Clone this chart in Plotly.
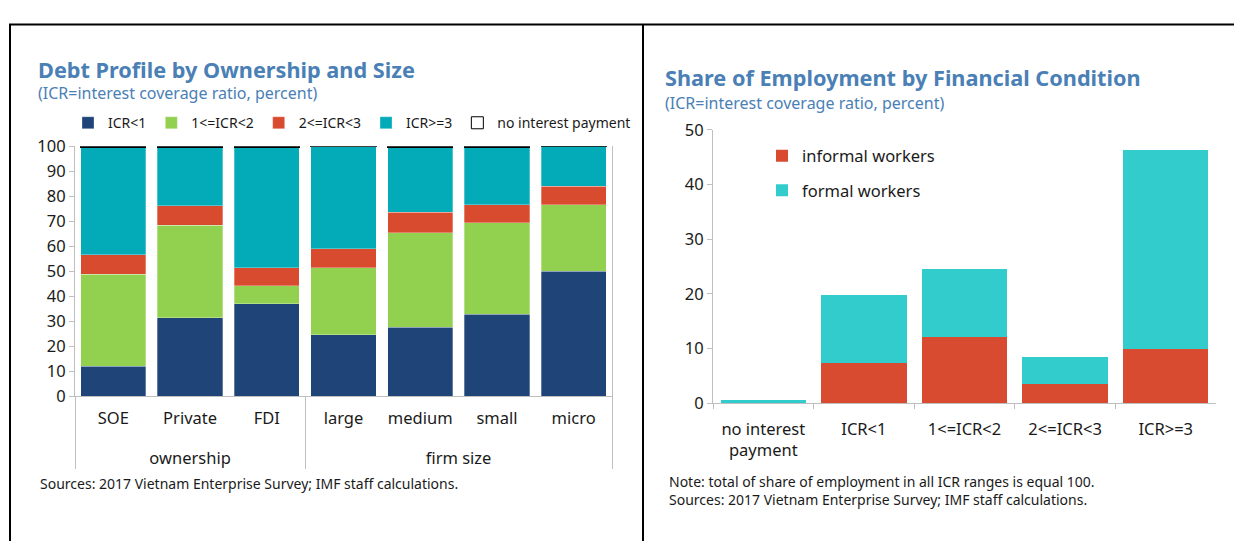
import plotly.graph_objects as go

W, H = 1234, 552

# ---- left chart: debt profile (percent of firms) ----
GROUPS = ["<br>ownership"] * 3 + ["<br>firm size"] * 4
FIRMS = ["SOE", "Private", "FDI", "large", "medium", "small", "micro"]
ICR_LT1 = [12.0, 31.4, 36.9, 24.6, 27.6, 32.7, 49.9]
ICR_1_2 = [36.7, 36.9, 7.3, 26.8, 37.8, 36.7, 26.6]
ICR_2_3 = [7.8, 7.9, 7.2, 7.6, 8.2, 7.1, 7.5]
ICR_GE3 = [43.0, 23.4, 47.9, 40.7, 26.0, 23.1, 15.9]
NO_INT = [0.5, 0.4, 0.7, 0.3, 0.4, 0.4, 0.1]

# ---- right chart: share of employment ----
ICR_CATS = ["no interest<br>payment", "ICR<1", "1<=ICR<2", "2<=ICR<3", "ICR>=3"]
INFORMAL = [0.0, 7.3, 12.0, 3.5, 9.8]
FORMAL = [0.5, 12.5, 12.6, 4.9, 36.6]

FONT = "Noto Sans"
BLUE_T = "#4a80b5"
AX = "#bfbfbf"


def px(x):
    return x / W


def py(y):
    return 1 - y / H


fig = go.Figure()

left_series = [
    ("ICR<1", ICR_LT1, "#1f4477"),
    ("1<=ICR<2", ICR_1_2, "#92d050"),
    ("2<=ICR<3", ICR_2_3, "#d94b2f"),
    ("ICR>=3", ICR_GE3, "#03aab7"),
]
for name, vals, col in left_series:
    fig.add_trace(go.Bar(
        x=[GROUPS, FIRMS], y=vals, name=name,
        marker=dict(color=col, line=dict(width=0.6, color="rgba(255,255,255,0.5)")),
        xaxis="x", yaxis="y", legend="legend",
    ))
fig.add_trace(go.Bar(
    x=[GROUPS, FIRMS], y=NO_INT, name="no interest payment",
    marker=dict(color="white", line=dict(width=1, color="black")),
    xaxis="x", yaxis="y", legend="legend",
))

fig.add_trace(go.Bar(
    x=ICR_CATS, y=INFORMAL, name="informal workers",
    marker=dict(color="#d84b30", line=dict(width=0)),
    xaxis="x2", yaxis="y2", legend="legend2", legendgroup="a",
))
fig.add_trace(go.Bar(
    x=ICR_CATS, y=FORMAL, name="formal workers",
    marker=dict(color="#33cccc", line=dict(width=0)),
    xaxis="x2", yaxis="y2", legend="legend2", legendgroup="b",
))

tick_font = dict(family=FONT, size=16.5, color="#1a1a1a")
note_font = dict(family=FONT, size=14, color="#1a1a1a")

annotations = [
    dict(text="<b>Debt Profile by Ownership and Size</b>", x=px(36), y=py(60),
         font=dict(family=FONT, size=21.7, color=BLUE_T)),
    dict(text="(ICR=interest coverage ratio, percent)", x=px(36), y=py(84),
         font=dict(family=FONT, size=16, color=BLUE_T)),
    dict(text="Sources: 2017 Vietnam Enterprise Survey; IMF staff calculations.",
         x=px(38), y=py(492), font=note_font),
    dict(text="<b>Share of Employment by Financial Condition</b>", x=px(663), y=py(68),
         font=dict(family=FONT, size=21.7, color=BLUE_T)),
    dict(text="(ICR=interest coverage ratio, percent)", x=px(663), y=py(95),
         font=dict(family=FONT, size=16, color=BLUE_T)),
    dict(text="Note: total of share of employment in all ICR ranges is equal 100.",
         x=px(667), y=py(490), font=note_font),
    dict(text="Sources: 2017 Vietnam Enterprise Survey; IMF staff calculations.",
         x=px(667), y=py(509), font=note_font),
]
for a in annotations:
    a.update(xref="paper", yref="paper", xanchor="left", yanchor="middle", showarrow=False)

frame = dict(type="line", xref="paper", yref="paper", line=dict(color="black", width=2))
shapes = [
    dict(frame, x0=px(9), x1=1, y0=py(13), y1=py(13)),
    dict(frame, x0=px(10), x1=px(10), y0=py(13), y1=0),
    dict(frame, x0=px(643), x1=px(643), y0=py(13), y1=0),
]

fig.update_layout(
    width=W, height=H,
    margin=dict(l=0, r=0, t=0, b=0),
    paper_bgcolor="white", plot_bgcolor="white",
    barmode="stack", bargap=0.15,
    font=dict(family=FONT, color="#1a1a1a"),
    annotations=annotations,
    shapes=shapes,
    xaxis=dict(
        domain=[px(75), px(612)], anchor="y", type="multicategory",
        showline=True, linecolor=AX, linewidth=1,
        showdividers=True, dividercolor=AX, dividerwidth=1,
        ticks="", tickfont=tick_font, showgrid=False, ticklabelstandoff=7,
    ),
    yaxis=dict(
        domain=[py(401), py(140)], anchor="x", range=[0, 100], dtick=10,
        showline=True, mirror=True, linecolor=AX, linewidth=1,
        ticks="outside", ticklen=5, tickcolor=AX, tickfont=tick_font,
        showgrid=False, zeroline=False,
    ),
    xaxis2=dict(
        domain=[px(713), px(1216)], anchor="y2",
        showline=True, linecolor=AX, linewidth=1,
        ticks="outside", tickson="boundaries", ticklen=5, tickcolor=AX,
        tickfont=tick_font, showgrid=False, ticklabelstandoff=11,
    ),
    yaxis2=dict(
        domain=[py(408), py(123)], anchor="x2", range=[0, 50], dtick=10,
        showline=True, linecolor=AX, linewidth=1,
        ticks="outside", ticklen=5, tickcolor=AX, tickfont=tick_font,
        showgrid=False, zeroline=False,
    ),
    legend=dict(
        orientation="h", x=px(352), y=py(116), xanchor="center", yanchor="middle",
        traceorder="normal", font=dict(family=FONT, size=14, color="#1a1a1a"),
        itemwidth=30, bgcolor="rgba(0,0,0,0)",
    ),
    legend2=dict(
        orientation="v", x=px(762), y=py(132), xanchor="left", yanchor="top",
        traceorder="grouped", tracegroupgap=10,
        font=dict(family=FONT, size=16.5, color="#1a1a1a"),
        itemwidth=30, bgcolor="rgba(0,0,0,0)",
    ),
)

# pin the fixed-size figure to the top-left corner of the page
pin = (
    "document.body.style.margin='0';"
    "document.body.style.overflow='hidden';"
    "var g=document.querySelector('.plotly-graph-div');"
    "g.style.position='fixed';g.style.top='0';g.style.left='0';"
)
fig.write_html("out.html", config={"displayModeBar": False}, post_script=pin)
